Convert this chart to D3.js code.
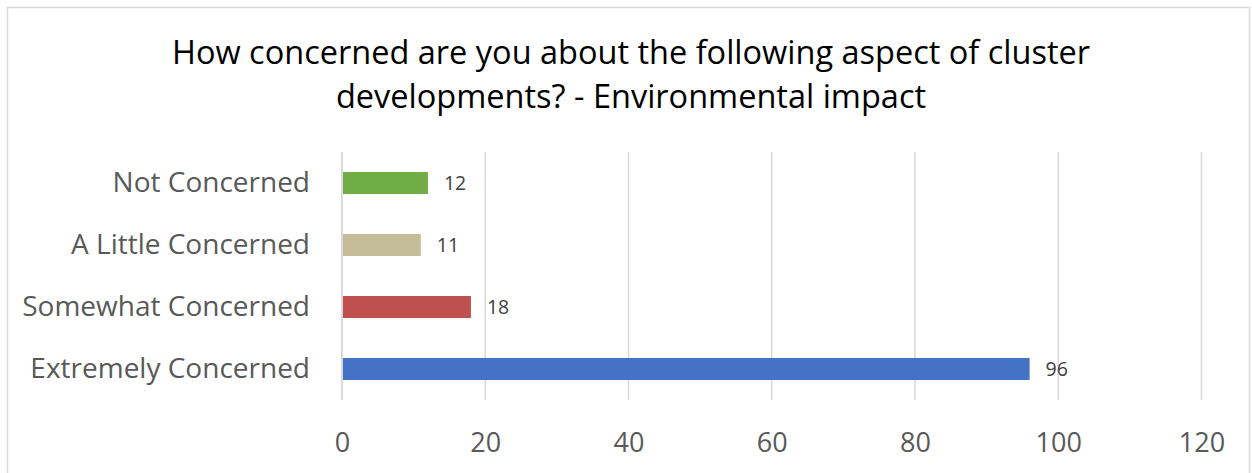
<!DOCTYPE html>
<html>
<head>
<meta charset="utf-8">
<script src="https://cdn.jsdelivr.net/npm/d3@7"></script>
<style>
  body { margin: 0; background: #fff; }
  text { font-family: "Open Sans", "Noto Sans", sans-serif; }
</style>
</head>
<body>
<div id="chart"></div>
<script>
const categories = ['Not Concerned', 'A Little Concerned', 'Somewhat Concerned', 'Extremely Concerned']
const counts = [12, 11, 18, 96]
const colors = ['#70ad47', '#c4bd97', '#c0504d', '#4472c4']
const ticks = [0, 20, 40, 60, 80, 100, 120]
const titleLines = ['How concerned are you about the following aspect of cluster', 'developments? - Environmental impact']

const width = 1252
const height = 473
const plot = { left: 342, right: 1201.5, top: 152, bottom: 400 }

const svg = d3.select('#chart').append('svg')
    .attr('width', width)
    .attr('height', height)

svg.append('rect')
    .attr('x', 7.5).attr('y', 7.5)
    .attr('width', width - 10).attr('height', height)
    .attr('fill', '#fff')
    .attr('stroke', '#d9d9d9')
    .attr('stroke-width', 1.5)

svg.append('g').selectAll('text')
    .data(titleLines)
    .enter().append('text')
    .attr('x', 631)
    .attr('y', (d, i) => 64 + i * 44)
    .attr('text-anchor', 'middle')
    .attr('font-size', 32.5)
    .attr('fill', '#000')
    .text(d => d)

const x = d3.scaleLinear().domain([0, 120]).range([plot.left, plot.right])
const y = d3.scaleBand().domain(categories).range([plot.top, plot.bottom]).paddingInner(0.645).paddingOuter(0.3225)

// gridlines
svg.append('g').selectAll('line')
    .data(ticks.slice(1))
    .enter().append('line')
    .attr('x1', d => x(d)).attr('x2', d => x(d))
    .attr('y1', plot.top).attr('y2', plot.bottom)
    .attr('stroke', '#d9d9d9')
    .attr('stroke-width', 1.5)

// tick labels
const xAxis = svg.append('g')
    .attr('transform', `translate(0, ${plot.bottom})`)
    .call(d3.axisBottom(x).tickValues(ticks).tickSize(0))
xAxis.select('.domain').remove()
xAxis.selectAll('text')
    .attr('y', 52)
    .attr('dy', null)
    .attr('font-size', 27)
    .attr('fill', '#595959')
    .attr('font-family', '"Open Sans", sans-serif')

// bars
svg.append('g').selectAll('rect')
    .data(counts)
    .enter().append('rect')
    .attr('x', x(0))
    .attr('y', (d, i) => y(categories[i]))
    .attr('width', d => x(d) - x(0))
    .attr('height', y.bandwidth())
    .attr('fill', (d, i) => colors[i])

// value labels
svg.append('g').selectAll('text')
    .data(counts)
    .enter().append('text')
    .attr('x', d => x(d) + 16)
    .attr('y', (d, i) => y(categories[i]) + y.bandwidth() / 2)
    .attr('dy', '0.36em')
    .attr('font-size', 19.5)
    .attr('fill', '#404040')
    .text(d => d)

// vertical axis line
svg.append('line')
    .attr('x1', x(0)).attr('x2', x(0))
    .attr('y1', plot.top).attr('y2', plot.bottom)
    .attr('stroke', '#d9d9d9')
    .attr('stroke-width', 2)

// category labels
const yAxis = svg.append('g')
    .attr('transform', `translate(${x(0)}, 0)`)
    .call(d3.axisLeft(y).tickSize(0).tickPadding(32))
yAxis.select('.domain').remove()
yAxis.selectAll('text')
    .attr('font-size', 28)
    .attr('fill', '#595959')
    .attr('font-family', '"Open Sans", sans-serif')
</script>
</body>
</html>
